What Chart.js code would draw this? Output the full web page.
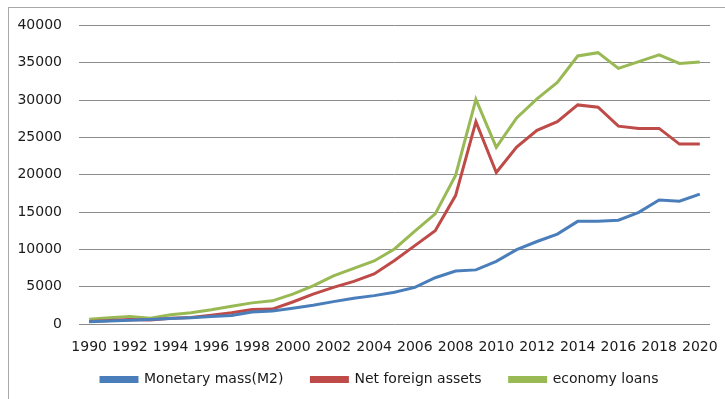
<!DOCTYPE html>
<html lang="en">
<head>
    <meta charset="UTF-8">
    <title>Monetary indicators 1990-2020</title>
    <script src="https://cdn.jsdelivr.net/npm/chart.js"></script>
    <style>
        html, body {
            margin: 0;
            padding: 0;
            background: #fff;
            overflow: hidden;
        }
        .wrap {
            position: relative;
            width: 725px;
            height: 399px;
        }
        .frame {
            position: absolute;
            left: 8px;
            top: 7px;
            width: 800px;
            height: 500px;
            border: 1px solid #a8a8a8;
            pointer-events: none;
        }
        canvas {
            position: absolute;
            left: 0;
            top: 0;
        }
    </style>
</head>
<body>
    <div class="wrap">
        <div class="frame"></div>
        <canvas id="myChart" width="725" height="399"></canvas>
    </div>

    <script>
        const years = ['1990', '1991', '1992', '1993', '1994', '1995', '1996', '1997', '1998', '1999',
            '2000', '2001', '2002', '2003', '2004', '2005', '2006', '2007', '2008', '2009',
            '2010', '2011', '2012', '2013', '2014', '2015', '2016', '2017', '2018', '2019', '2020'];

        const monetaryMass = [300, 400, 500, 600, 750, 850, 1000, 1150, 1600, 1750,
            2100, 2500, 3000, 3450, 3800, 4250, 4900, 6200, 7100, 7250,
            8400, 9950, 11050, 12050, 13750, 13750, 13900, 14950, 16600, 16450, 17400];

        const netForeignAssets = [330, 470, 600, 550, 780, 870, 1180, 1500, 1950, 2000,
            2950, 4000, 4900, 5700, 6700, 8500, 10500, 12500, 17200, 27100,
            20300, 23700, 25950, 27100, 29350, 29050, 26500, 26200, 26200, 24100, 24100];

        const economyLoans = [650, 830, 1000, 780, 1230, 1500, 1900, 2380, 2830, 3100,
            4000, 5100, 6450, 7450, 8450, 10050, 12450, 14750, 19900, 30100,
            23650, 27600, 30150, 32350, 35900, 36350, 34250, 35150, 36050, 34900, 35100];

        const yTicks = [0, 5000, 10000, 15000, 20000, 25000, 30000, 35000, 40000];

        const font = { family: "'DejaVu Sans', sans-serif", size: 14 };
        const textColor = '#1a1a1a';

        function series(label, data, color) {
            return {
                label: label,
                data: data,
                borderColor: color,
                backgroundColor: color,
                borderWidth: 3,
                pointRadius: 0,
                tension: 0,
                fill: false
            };
        }

        // put the legend row under the plot, starting below the first year label
        const legendPlace = {
            id: 'legendPlace',
            afterLayout(chart) {
                const lg = chart.legend;
                if (!lg || !lg.lineWidths) return;
                const pad = lg.options.labels.padding;
                const startX = (lg.left + pad + lg.right - lg.lineWidths[0]) / 2;
                const dx = 101 - startX;
                lg.left += dx;
                lg.right += dx;
                const itemH = lg._itemHeight || font.size * 1.2;
                lg.top = 381 - pad - itemH / 2;
                lg.bottom = chart.height;
                lg.height = lg.bottom - lg.top;
            }
        };

        const ctx = document.getElementById('myChart');
        new Chart(ctx, {
            type: 'line',
            data: {
                labels: years,
                datasets: [
                    series('Monetary mass(M2)', monetaryMass, '#4a7ebb'),
                    series('Net foreign assets', netForeignAssets, '#be4b48'),
                    series('economy loans', economyLoans, '#98b954')
                ]
            },
            plugins: [legendPlace],
            options: {
                responsive: false,
                animation: false,
                layout: {
                    padding: { left: 0, right: 15, top: 24, bottom: 0 }
                },
                plugins: {
                    tooltip: { enabled: false },
                    legend: {
                        position: 'bottom',
                        maxHeight: 38,
                        labels: {
                            boxWidth: 36,
                            boxHeight: 4,
                            padding: 28,
                            color: textColor,
                            font: font
                        }
                    }
                },
                scales: {
                    x: {
                        offset: true,
                        grid: { display: false },
                        border: { display: false },
                        afterFit: function (scale) {
                            scale.height = 37;
                            scale.paddingLeft = 0;
                            scale.paddingRight = 0;
                        },
                        ticks: {
                            autoSkip: false,
                            maxRotation: 0,
                            padding: 7,
                            color: textColor,
                            font: font,
                            callback: function (value, index) {
                                return index % 2 === 0 ? years[index] : '';
                            }
                        }
                    },
                    y: {
                        min: yTicks[0],
                        max: yTicks[yTicks.length - 1],
                        grid: { color: '#8c8c8c', lineWidth: 1, drawTicks: false },
                        border: { display: false },
                        afterFit: function (scale) { scale.width = 79; },
                        afterBuildTicks: function (scale) {
                            scale.ticks = yTicks.map(v => ({ value: v }));
                        },
                        ticks: {
                            padding: 17,
                            color: textColor,
                            font: font,
                            callback: function (value) { return String(value); }
                        }
                    }
                }
            }
        });
    </script>
</body>
</html>
